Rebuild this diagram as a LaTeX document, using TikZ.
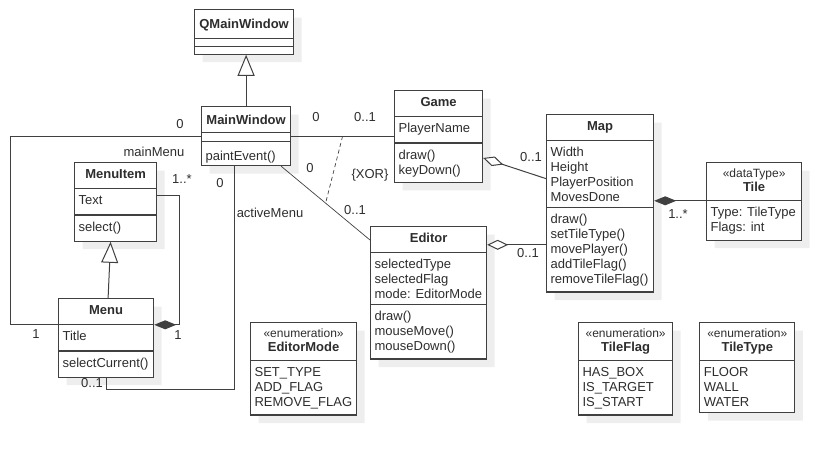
\documentclass[tikz,border=0pt]{standalone}
\usepackage{fontspec}
\setmainfont{Liberation Sans}
\usetikzlibrary{arrows.meta, positioning, calc, shapes.multipart, shadows}
\definecolor{umlline}{RGB}{64,64,64}
\definecolor{umltext}{RGB}{45,45,45}
\definecolor{umlshadow}{RGB}{238,238,238}
\newcommand{\umlstereo}[2]{{\renewcommand\arraystretch{0.9}\begin{tabular}{@{}c@{}}{\fontsize{12}{14}\selectfont«#1»}\\\textbf{#2}\end{tabular}}}
\newcommand{\partstrut}[2]{\vrule width 0pt height #1pt depth #2pt}

\begin{document}
\begin{tikzpicture}[
    x=1pt, y=-1pt,
    every node/.style={font=\fontsize{13}{15}\selectfont, text=umltext},
    umlbox/.style={draw=umlline, line width=1.2pt, fill=white, anchor=north west,
        rectangle split, rectangle split parts=3, rectangle split part align={center,left,left},
        inner xsep=4pt, inner ysep=1pt,
        drop shadow={shadow xshift=8pt, shadow yshift=-8pt, fill=umlshadow, opacity=1, draw=none}},
    umlclass/.style={umlbox, align=left, inner ysep=5pt},
    umlenum/.style={umlclass, rectangle split parts=2},
    assoc/.style={draw=umlline, line width=1pt},
    mult/.style={inner sep=0pt},
    inherit/.style={assoc, -{Triangle[length=21pt, width=17pt, fill=white]}},
    aggreg/.style={assoc, {Diamond[length=21pt, width=10pt, fill=white]}-},
    compos/.style={assoc, {Diamond[length=22pt, width=9pt, fill=umlline]}-},
]
    \useasboundingbox (0,0) rectangle (840,452);

    % Window classes
    \node[umlbox, minimum width=99pt, inner ysep=0.6pt] (qmainwin) at (194,9) {\partstrut{18}{8.8}\textbf{QMainWindow}\nodepart{two}\nodepart{three}};
    \node[umlbox, minimum width=89pt, inner ysep=1.1pt] (mainwin) at (201,106) {\partstrut{15.9}{6.9}\textbf{MainWindow}\nodepart{two}\nodepart{three}\partstrut{16.9}{3.9}paintEvent()};

    % Menus
    \node[umlclass, minimum width=82pt] (menuitem) at (74,162) {\strut\textbf{MenuItem}\nodepart{two}\strut Text\nodepart{three}\strut select()};
    \node[umlclass, minimum width=95pt] (menu) at (58,298) {\strut\textbf{Menu}\nodepart{two}\strut Title\nodepart{three}\strut selectCurrent()};

    % Game, editor, map
    \node[umlclass, minimum width=88pt] (game) at (394,90) {\strut\textbf{Game}\nodepart{two}\strut PlayerName\nodepart{three}\strut draw()\\keyDown()};
    \node[umlclass, minimum width=116pt] (editor) at (370,226) {\strut\textbf{Editor}\nodepart{two}\strut selectedType\\selectedFlag\\mode: EditorMode\nodepart{three}\strut draw()\\mouseMove()\\mouseDown()};
    \node[umlclass, minimum width=107pt] (map) at (546,114) {\strut\textbf{Map}\nodepart{two}\strut Width\\Height\\PlayerPosition\\MovesDone\nodepart{three}\strut draw()\\setTileType()\\movePlayer()\\addTileFlag()\\removeTileFlag()};
    \node[umlenum, minimum width=95pt] (tile) at (706,162) {\umlstereo{dataType}{Tile}\nodepart{two}\strut Type: TileType\\Flags: int};

    % Enumerations
    \node[umlenum, minimum width=106pt] (editormode) at (250,322) {\umlstereo{enumeration}{EditorMode}\nodepart{two}\strut SET\_TYPE\\ADD\_FLAG\\REMOVE\_FLAG};
    \node[umlenum, minimum width=94pt] (tileflag) at (578,322) {\umlstereo{enumeration}{TileFlag}\nodepart{two}\strut HAS\_BOX\\IS\_TARGET\\IS\_START};
    \node[umlenum, minimum width=95pt, right=26pt of tileflag.north east, anchor=north west] (tiletype) {\umlstereo{enumeration}{TileType}\nodepart{two}\strut FLOOR\\WALL\\WATER};

    % Generalizations
    \draw[inherit] (mainwin.north) -- (mainwin.north |- qmainwin.south);
    \draw[inherit] ([xshift=2pt]menu.north) -- ([xshift=-5pt]menuitem.south);

    % mainMenu and activeMenu
    \draw[assoc] (mainwin.west) -- ++(-191,0) |- (menu.text split west);
    \draw[assoc] ([xshift=-12pt]mainwin.south) -- ++(0,223) -| (menu.south);
    \draw[compos] (menu.text split east) -- ++(25,0) |- ([yshift=-7pt]menuitem.text split east);

    % Game / Editor with {XOR}
    \draw[assoc] (mainwin.east) -- coordinate[pos=0.5] (xorgame) (mainwin.east -| game.west);
    \draw[assoc, line width=0.7pt] ([xshift=-10pt]mainwin.south east) -- coordinate[pos=0.5] (xoreditor) ([yshift=-14pt]editor.north west);
    \draw[assoc, line width=0.7pt, dash pattern=on 4pt off 3pt] (xorgame) -- (xoreditor);

    % Map aggregations and tiles
    \draw[aggreg] ([yshift=-15pt]game.two split east) -- ([yshift=29pt]map.two split west);
    \coordinate (edmap) at ([yshift=8pt]editor.text split east);
    \draw[aggreg] (edmap) -- (edmap -| map.west);
    \draw[compos] (tile.text split west -| map.east) -- (tile.text split west);

    % Multiplicities and roles
    \node[mult] (mmwin) at (180,124) {0};
    \node[mult] (mmrole) at (154,152) {mainMenu};
    \node[mult] (mmmenu) at (36,334) {1};
    \node[mult] (amwin) at (220,183) {0};
    \node[mult] (amrole) at (270,213) {activeMenu};
    \node[mult] (ammenu) at (92,383) {0..1};
    \node[mult] (itmany) at (182,179) {1..*};
    \node[mult] (itone) at (178,335) {1};
    \node[mult] (gmwin) at (316,117) {0};
    \node[mult] (gmgame) at (365,117) {0..1};
    \node[mult] (edwin) at (310,168) {0};
    \node[mult] (ededitor) at (355,210) {0..1};
    \node[mult] (xorlbl) at (370,175) {\{XOR\}};
    \node[mult] (mpgame) at (531,157) {0..1};
    \node[mult] (mpeditor) at (528,253) {0..1};
    \node[mult] (tlmany) at (678,214) {1..*};
\end{tikzpicture}
\end{document}
